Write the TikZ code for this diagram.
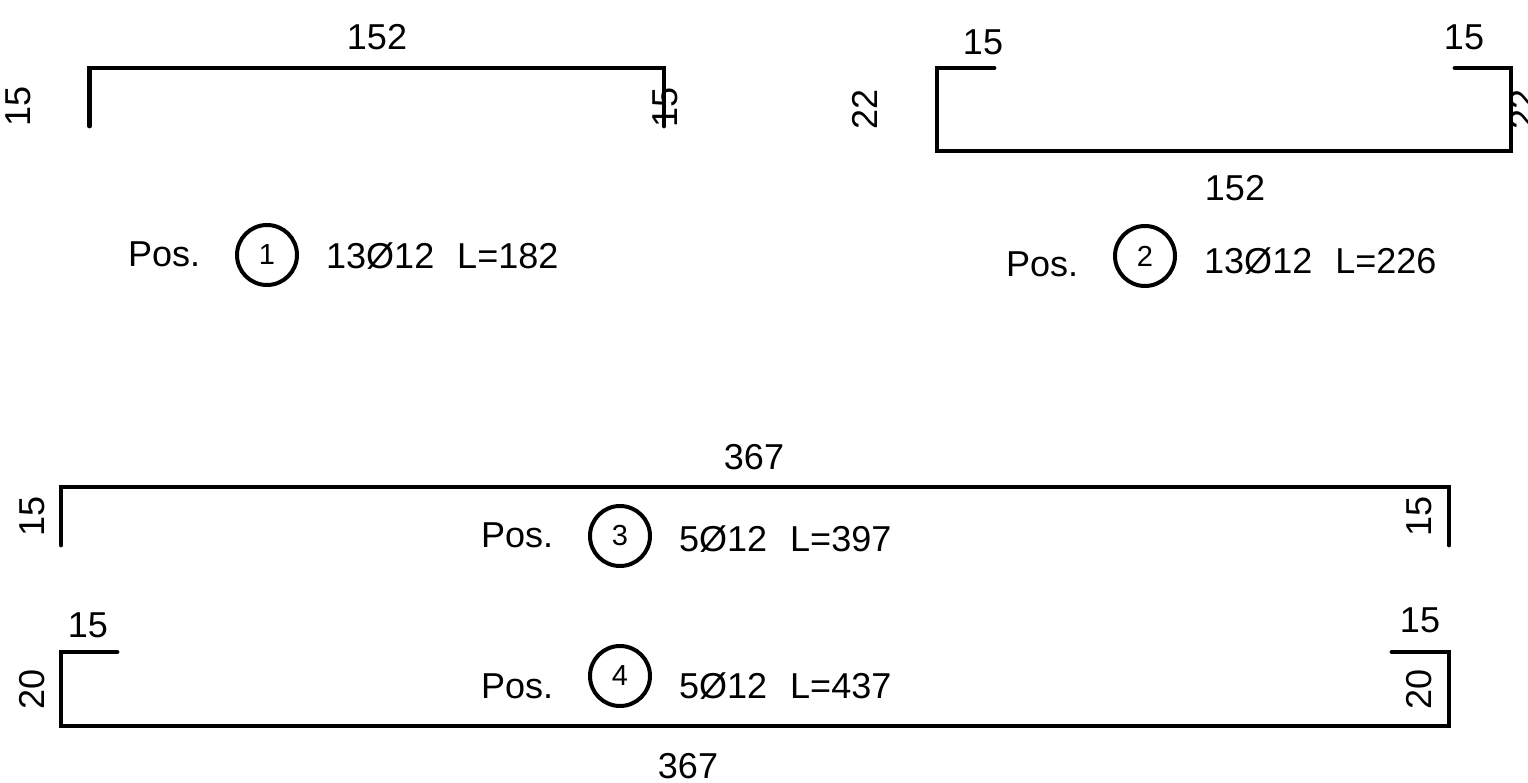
\documentclass[tikz,border=0pt]{standalone}
\usepackage{fontspec}
\setmainfont{Liberation Sans}
\newcommand{\gapsp}{\hspace{23pt}}
\tikzset{
  x=1pt,y=-1pt,
  bar/.style={line width=4.8pt,line cap=round,line join=miter,black},
  dim/.style={font=\fontsize{36}{36}\selectfont,inner sep=0pt,anchor=base},
  vdim/.style={dim,rotate=90},
  lab/.style={font=\fontsize{36}{36}\selectfont,inner sep=0pt,anchor=base west},
  posmark/.style={circle,draw=black,line width=4pt,minimum size=60pt,inner sep=0pt,font=\fontsize{29}{29}\selectfont},
}
\begin{document}
\begin{tikzpicture}
\useasboundingbox (0,0) rectangle (1528,783);
% Pos 1
\draw[bar] (89.5,126) -- (89.5,68) -- (664,68) -- (664,126);
\node[dim] (a1) at (377,50) {152};
\node[vdim] (a2) at (30,106) {15};
\node[vdim] (a3) at (677,107) {15};
\node[lab] (a4) at (128,267) {Pos.};
\node[posmark] (a5) at (267,255) {1};
\node[lab] (a6) at (326,269) {13Ø12\gapsp L=182};
% Pos 2
\draw[bar] (994,68) -- (937,68) -- (937,151) -- (1511,151) -- (1511,68) -- (1455,68);
\node[dim] (b1) at (1235,201) {152};
\node[dim] (b2) at (983,55) {15};
\node[dim] (b3) at (1464,50) {15};
\node[vdim] (b4) at (877,109) {22};
\node[vdim] (b5) at (1535,109) {22};
\node[lab] (b6) at (1006,277) {Pos.};
\node[posmark] (b7) at (1145,256) {2};
\node[lab] (b8) at (1204,274) {13Ø12\gapsp L=226};
% Pos 3
\draw[bar] (61,545) -- (61,487) -- (1449,487) -- (1449,545);
\node[dim] (c1) at (754,469) {367};
\node[vdim] (c2) at (44,516) {15};
\node[vdim] (c3) at (1431,516) {15};
\node[lab] (c4) at (481,547) {Pos.};
\node[posmark] (c5) at (620,536) {3};
\node[lab] (c6) at (679,551) {5Ø12\gapsp L=397};
% Pos 4
\draw[bar] (117,652) -- (61,652) -- (61,726) -- (1449,726) -- (1449,652) -- (1392,652);
\node[dim] (d1) at (688,778) {367};
\node[dim] (d2) at (88,637) {15};
\node[dim] (d3) at (1420,632) {15};
\node[vdim] (d4) at (44,689) {20};
\node[vdim] (d5) at (1431,689) {20};
\node[lab] (d6) at (481,698) {Pos.};
\node[posmark] (d7) at (620,676) {4};
\node[lab] (d8) at (679,698) {5Ø12\gapsp L=437};
\end{tikzpicture}
\end{document}
